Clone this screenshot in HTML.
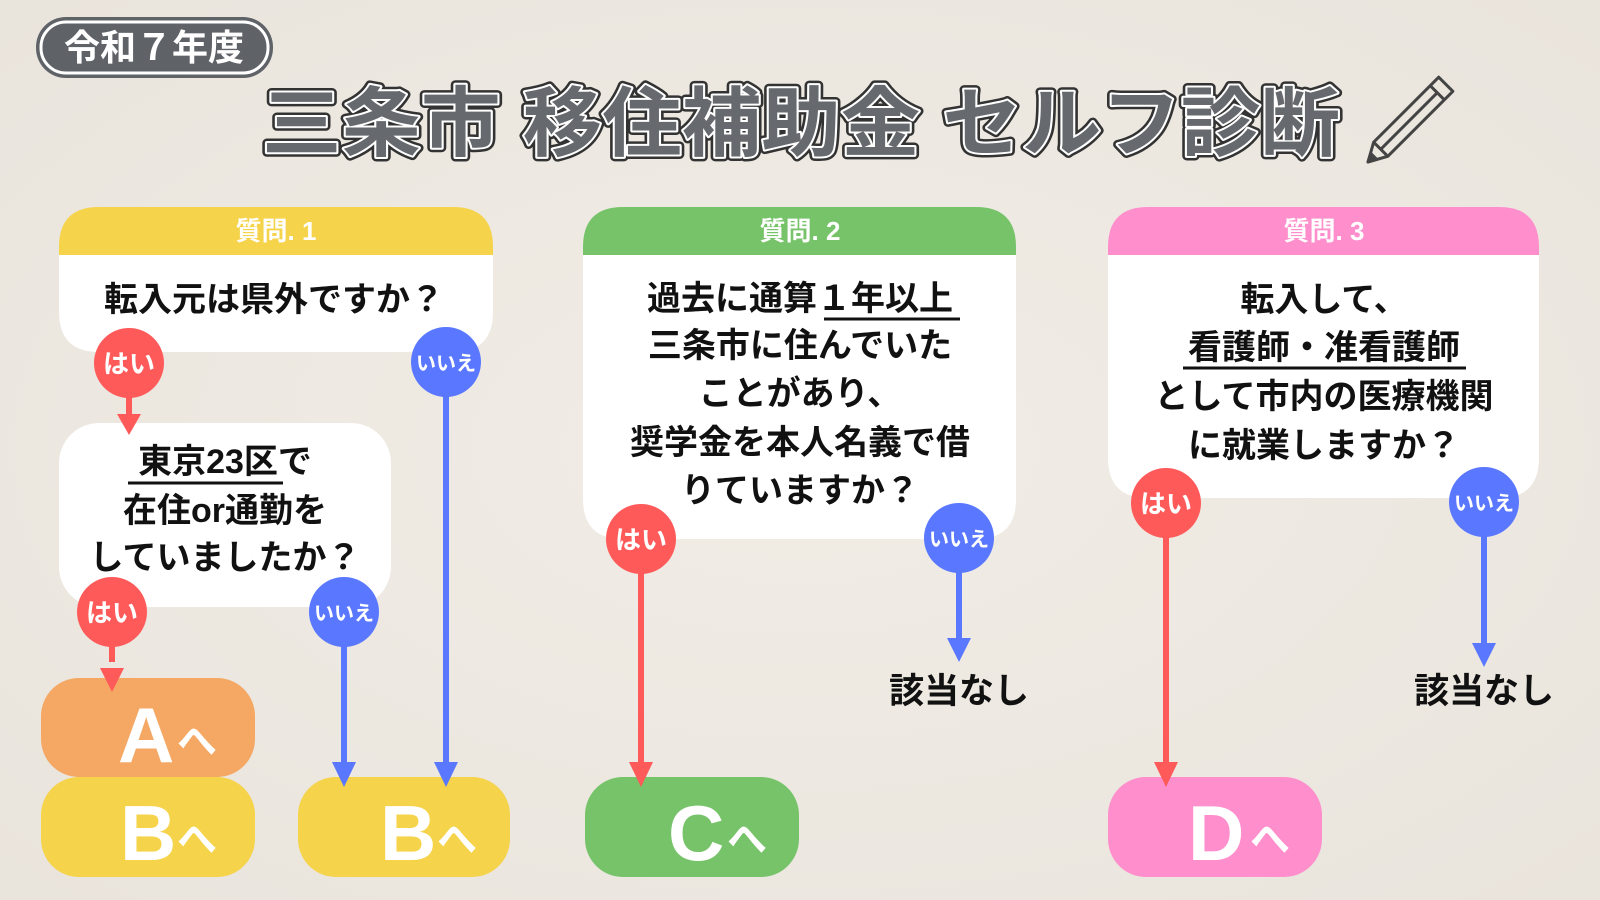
<!DOCTYPE html>
<html><head><meta charset="utf-8"><style>
html,body{margin:0;padding:0;width:1600px;height:900px;overflow:hidden;background:#efebe4;}
svg{display:block;font-family:"Liberation Sans","Noto Sans CJK JP",sans-serif;}
</style></head><body>
<svg width="1600" height="900" viewBox="0 0 1600 900" xmlns="http://www.w3.org/2000/svg">
<defs>
<radialGradient id="bg" cx="50%" cy="50%" r="70%"><stop offset="0" stop-color="#f1ede6"/><stop offset="1" stop-color="#e9e4dc"/></radialGradient>
</defs>
<rect width="1600" height="900" fill="url(#bg)"/>

<!-- badge -->
<rect x="36" y="17" width="237" height="61" rx="30" fill="#5f6368"/>
<rect x="41" y="22" width="227" height="51" rx="25" fill="none" stroke="#fff" stroke-width="3"/>
<text x="154" y="60" font-size="36" font-weight="bold" fill="#fff" text-anchor="middle">令和７年度</text>

<!-- title -->
<g font-size="76" font-weight="bold" fill="#666a6e" stroke-linejoin="round">
<text x="262" y="150" textLength="1078" lengthAdjust="spacingAndGlyphs" stroke="#333" stroke-width="9">三条市 移住補助金 セルフ診断</text>
<text x="262" y="150" textLength="1078" lengthAdjust="spacingAndGlyphs" stroke="#fff" stroke-width="4">三条市 移住補助金 セルフ診断</text>
<text x="262" y="150" textLength="1078" lengthAdjust="spacingAndGlyphs">三条市 移住補助金 セルフ診断</text>
</g>
<!-- pencil -->
<g transform="translate(1368,162) rotate(-45)" fill="none" stroke="#444" stroke-width="3" stroke-linejoin="round">
<path d="M0 0 L18 -10 L110 -10 L110 10 L18 10 Z"/><path d="M18 -10 L18 10 M98 -10 L98 10 M18 0 L98 0"/><path d="M0 0 L8 -4 L8 4 Z" fill="#444"/>
</g>

<!-- card 1 -->
<path d="M59 255 V247 Q59 207 99 207 H453 Q493 207 493 247 V255 Z" fill="#f5d34a"/>
<path d="M59 255 H493 V312 Q493 352 453 352 H99 Q59 352 59 312 Z" fill="#fff"/>
<text x="276" y="240" font-size="26" font-weight="bold" fill="#fff" text-anchor="middle">質問. 1</text>
<text x="274" y="311" font-size="34" font-weight="bold" fill="#111" text-anchor="middle">転入元は県外ですか？</text>

<!-- card 1b -->
<rect x="59" y="423" width="332" height="184" rx="40" fill="#fff"/>
<g font-size="34" font-weight="bold" fill="#111" text-anchor="middle">
<text x="225" y="473">東京23区で</text>
<text x="225" y="522">在住or通勤を</text>
<text x="225" y="569">していましたか？</text>
</g>
<line x1="128" y1="483" x2="283" y2="483" stroke="#111" stroke-width="3"/>

<!-- card 2 -->
<path d="M583 255 V247 Q583 207 623 207 H976 Q1016 207 1016 247 V255 Z" fill="#77c36a"/>
<path d="M583 255 H1016 V499 Q1016 539 976 539 H623 Q583 539 583 499 Z" fill="#fff"/>
<text x="800" y="240" font-size="26" font-weight="bold" fill="#fff" text-anchor="middle">質問. 2</text>
<g font-size="34" font-weight="bold" fill="#111" text-anchor="middle">
<text x="800" y="310">過去に通算１年以上</text>
<text x="800" y="357">三条市に住んでいた</text>
<text x="800" y="405">ことがあり、</text>
<text x="800" y="454">奨学金を本人名義で借</text>
<text x="800" y="502">りていますか？</text>
</g>
<line x1="824" y1="319" x2="960" y2="319" stroke="#111" stroke-width="3"/>

<!-- card 3 -->
<path d="M1108 255 V247 Q1108 207 1148 207 H1499 Q1539 207 1539 247 V255 Z" fill="#ff8fcc"/>
<path d="M1108 255 H1539 V458 Q1539 498 1499 498 H1148 Q1108 498 1108 458 Z" fill="#fff"/>
<text x="1324" y="240" font-size="26" font-weight="bold" fill="#fff" text-anchor="middle">質問. 3</text>
<g font-size="34" font-weight="bold" fill="#111" text-anchor="middle">
<text x="1324" y="311">転入して、</text>
<text x="1324" y="359">看護師・准看護師</text>
<text x="1324" y="408">として市内の医療機関</text>
<text x="1324" y="457">に就業しますか？</text>
</g>
<line x1="1183" y1="368" x2="1466" y2="368" stroke="#111" stroke-width="3"/>

<!-- result boxes -->
<rect x="41" y="678" width="214" height="99" rx="38" fill="#f4a864"/>
<rect x="41" y="777" width="214" height="100" rx="38" fill="#f5d34a"/>
<rect x="298" y="777" width="212" height="100" rx="38" fill="#f5d34a"/>
<rect x="585" y="777" width="214" height="100" rx="38" fill="#77c36a"/>
<rect x="1108" y="777" width="214" height="100" rx="38" fill="#ff8fcc"/>
<g fill="#fff" font-weight="bold">
<text x="118" y="762" font-size="78">A</text><text x="177" y="755" font-size="40">へ</text>
<text x="120" y="860" font-size="78">B</text><text x="177" y="853" font-size="40">へ</text>
<text x="380" y="860" font-size="78">B</text><text x="437" y="853" font-size="40">へ</text>
<text x="668" y="860" font-size="78">C</text><text x="727" y="853" font-size="40">へ</text>
<text x="1188" y="860" font-size="78">D</text><text x="1250" y="853" font-size="40">へ</text>
</g>

<!-- connectors -->
<g stroke-width="6">
<line x1="129" y1="390" x2="129" y2="418" stroke="#ff5a5a"/>
<line x1="446" y1="390" x2="446" y2="765" stroke="#5a78ff"/>
<line x1="112" y1="640" x2="112" y2="662" stroke="#ff5a5a"/>
<line x1="344" y1="640" x2="344" y2="765" stroke="#5a78ff"/>
<line x1="641" y1="567" x2="641" y2="765" stroke="#ff5a5a"/>
<line x1="959" y1="567" x2="959" y2="645" stroke="#5a78ff"/>
<line x1="1166" y1="531" x2="1166" y2="765" stroke="#ff5a5a"/>
<line x1="1484" y1="530" x2="1484" y2="650" stroke="#5a78ff"/>
</g>
<g>
<path d="M117 414 H141 L129 435 Z" fill="#ff5a5a"/>
<path d="M434 762 H458 L446 787 Z" fill="#5a78ff"/>
<path d="M100 668 H124 L112 692 Z" fill="#ff5a5a"/>
<path d="M332 762 H356 L344 787 Z" fill="#5a78ff"/>
<path d="M629 762 H653 L641 787 Z" fill="#ff5a5a"/>
<path d="M947 638 H971 L959 662 Z" fill="#5a78ff"/>
<path d="M1154 762 H1178 L1166 787 Z" fill="#ff5a5a"/>
<path d="M1472 643 H1496 L1484 667 Z" fill="#5a78ff"/>
</g>

<!-- circles -->
<g font-weight="bold" fill="#fff" text-anchor="middle">
<ellipse cx="129" cy="363" rx="35" ry="35" fill="#ff5a5a"/><text x="129" y="373" font-size="26">はい</text>
<ellipse cx="446" cy="362" rx="35" ry="35" fill="#5a78ff"/><text x="446" y="370" font-size="20">いいえ</text>
<ellipse cx="112" cy="612" rx="35" ry="35" fill="#ff5a5a"/><text x="112" y="622" font-size="26">はい</text>
<ellipse cx="344" cy="612" rx="35" ry="35" fill="#5a78ff"/><text x="344" y="620" font-size="20">いいえ</text>
<ellipse cx="641" cy="539" rx="35" ry="35" fill="#ff5a5a"/><text x="641" y="549" font-size="26">はい</text>
<ellipse cx="959" cy="538" rx="35" ry="35" fill="#5a78ff"/><text x="959" y="546" font-size="20">いいえ</text>
<ellipse cx="1166" cy="503" rx="35" ry="35" fill="#ff5a5a"/><text x="1166" y="513" font-size="26">はい</text>
<ellipse cx="1484" cy="502" rx="35" ry="35" fill="#5a78ff"/><text x="1484" y="510" font-size="20">いいえ</text>
</g>

<g font-size="35" font-weight="bold" fill="#111" text-anchor="middle">
<text x="959" y="703">該当なし</text>
<text x="1484" y="703">該当なし</text>
</g>
</svg>
</body></html>
